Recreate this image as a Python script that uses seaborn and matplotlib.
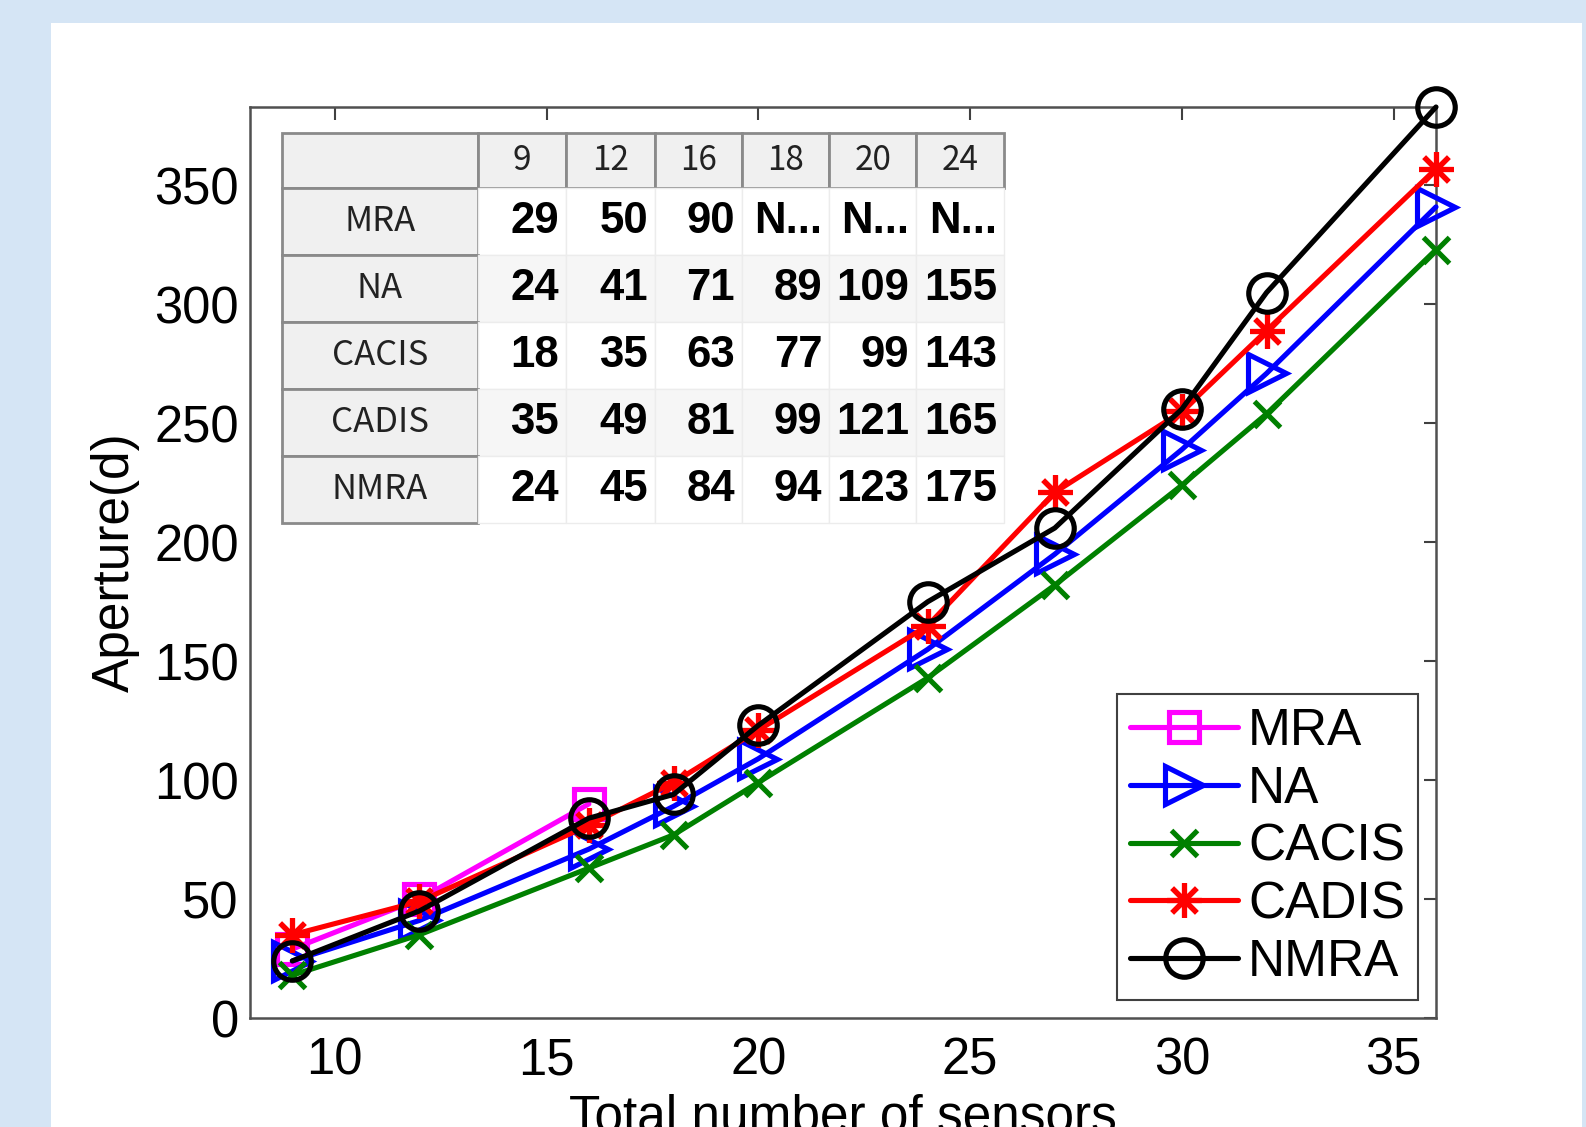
import numpy as np
import pandas as pd
import matplotlib
matplotlib.use("Agg")
import matplotlib.pyplot as plt
import seaborn as sns
from matplotlib.patches import Rectangle

# ---------------- data ----------------
sensors = [9, 12, 16, 18, 20, 24, 27, 30, 32, 36]
mra_sensors = [9, 12, 16]
mra = [29, 50, 90]
na = [24, 41, 71, 89, 109, 155, 195, 239, 271, 341]
cacis = [18, 35, 63, 77, 99, 143, 182, 224, 254, 323]
cadis = [35, 49, 81, 99, 121, 165, 221, 255, 289, 357]
nmra = [24, 45, 84, 94, 123, 175, 206, 256, 305, 383]
series_names = ["MRA", "NA", "CACIS", "CADIS", "NMRA"]
table_cols = [9, 12, 16, 18, 20, 24]
x_ticks = [10, 15, 20, 25, 30, 35]
y_ticks = [0, 50, 100, 150, 200, 250, 300, 350]
x_label = "Total number of sensors"
y_label = "Aperture(d)"

# ---------------- style ----------------
sns.set_style("white")
plt.rcParams['font.family'] = ['Liberation Sans', 'DejaVu Sans']
plt.rcParams['text.color'] = 'black'
plt.rcParams['axes.labelcolor'] = 'black'

W, H = 1586, 1127
fig = plt.figure(figsize=(W / 100, H / 100), dpi=100, facecolor="#d5e5f5")
# white page area
fig.patches.append(Rectangle((51 / W, 0), (1582 - 51) / W, 1 - 23 / H,
                             transform=fig.transFigure, facecolor="white",
                             edgecolor="none", zorder=-5))

ax = fig.add_axes([250 / W, 1 - 1018 / H, 1186 / W, 911 / H])
ax.set_facecolor("white")
ax.set_zorder(1)

styles = {
    "MRA":   dict(color="#ff00ff", marker="s", ms=21),
    "NA":    dict(color="#0000ff", marker=">", ms=27),
    "CACIS": dict(color="#008000", marker="x", ms=19),
    "CADIS": dict(color="#ff0000", marker=(8, 2, 0), ms=25),
    "NMRA":  dict(color="#000000", marker="o", ms=27),
}
series_x = {"MRA": mra_sensors, "NA": sensors, "CACIS": sensors,
            "CADIS": sensors, "NMRA": sensors}
series_y = {"MRA": mra, "NA": na, "CACIS": cacis, "CADIS": cadis, "NMRA": nmra}

for i, name in enumerate(series_names):
    st = styles[name]
    df = pd.DataFrame({"x": series_x[name], "y": series_y[name]})
    sns.lineplot(data=df, x="x", y="y", ax=ax, color=st["color"],
                 marker=st["marker"], markersize=st["ms"],
                 markerfacecolor="none", markeredgecolor=st["color"],
                 markeredgewidth=3.7, linewidth=3.7, label=name,
                 clip_on=False, zorder=3 + i)

ax.set_xlim(8, 36)
ax.set_ylim(0, 383)
ax.set_xticks(x_ticks)
ax.set_yticks(y_ticks)
ax.tick_params(direction="in", length=9, width=1.5, colors="#404040",
               labelcolor="black", labelsize=36.5, top=True, right=True)
ax.tick_params(axis="y", pad=8)
ax.tick_params(axis="x", pad=13)
for s in ax.spines.values():
    s.set_color("#505050")
    s.set_linewidth(1.8)
ax.set_xlabel(x_label, fontsize=37, labelpad=6, color="black")
ax.set_ylabel(y_label, fontsize=37, labelpad=10, color="black")

# ---------------- legend ----------------
leg = ax.legend(loc="lower right", fontsize=37, frameon=True, fancybox=False,
                framealpha=1, edgecolor="#404040", handlelength=2.1,
                handletextpad=0.2, labelspacing=0.17, borderpad=0.25,
                borderaxespad=0.35)
leg.get_frame().set_linewidth(1.5)
leg.set_zorder(20)
for t in leg.get_texts():
    t.set_color("black")

# ---------------- table ----------------
rows = [[""] + [str(c) for c in table_cols]]
for name in series_names:
    xs, ys = series_x[name], series_y[name]
    lookup = dict(zip(xs, ys))
    rows.append([name] + [str(lookup[c]) if c in lookup else "N..." for c in table_cols])

col_w = [196, 88, 89, 87, 87, 87, 88]
tbl = ax.table(cellText=rows, colWidths=[w / sum(col_w) for w in col_w],
               cellLoc="center", bbox=[0.027, 0.543, 0.609, 0.4285])
tbl.auto_set_font_size(False)
tbl.set_zorder(15)
for (r, c), cell in tbl.get_celld().items():
    cell.set_height(55 if r == 0 else 67)
    txt = cell.get_text()
    if r == 0 or c == 0:
        cell.set_facecolor("#f0f0f0")
        cell.set_edgecolor("#8a8a8a")
        cell.set_linewidth(2.0)
        txt.set_fontfamily(["Noto Sans CJK KR", "DejaVu Sans"])
        txt.set_fontsize(24 if r == 0 else 25)
        txt.set_color("#222222")
    else:
        cell.set_facecolor("#f6f6f6" if r % 2 == 0 else "white")
        cell.set_edgecolor("#ececec")
        cell.set_linewidth(1.0)
        cell._loc = "right"
        cell.PAD = 0.08
        txt.set_fontsize(31.5)
        txt.set_fontweight("bold")
        txt.set_fontfamily(["Liberation Sans", "DejaVu Sans"])
        txt.set_horizontalalignment("right")
        txt.set_color("black")

fig.savefig("out.png", dpi=100, facecolor=fig.get_facecolor())
